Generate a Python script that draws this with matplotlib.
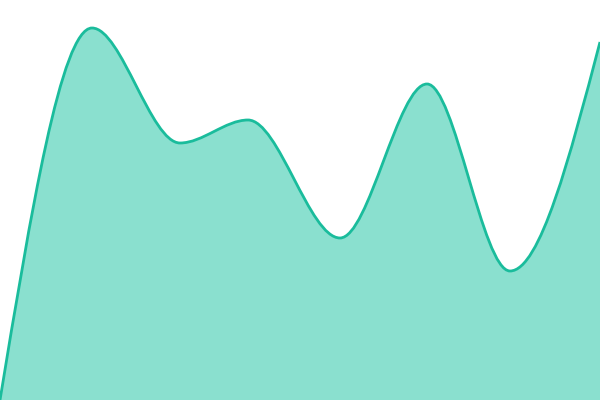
import matplotlib
matplotlib.use("Agg")
import matplotlib.pyplot as plt
from matplotlib.path import Path
from matplotlib.patches import PathPatch

# data points (at the curve's turning points)
xs = [0, 92, 180, 248, 340, 427, 510, 600]
ys = [0, 372, 257, 280, 162, 316, 129, 358]

line_color = "#1abc9c"
fill_color = "#8ae0cf"


def monotone_slopes(x, y):
    # Fritsch-Carlson style tangents, like d3 curveMonotoneX
    n = len(x)
    sec = [(y[i + 1] - y[i]) / (x[i + 1] - x[i]) for i in range(n - 1)]
    m = [0.0] * n
    for i in range(1, n - 1):
        s0, s1 = sec[i - 1], sec[i]
        if s0 * s1 <= 0:
            continue
        h0, h1 = x[i] - x[i - 1], x[i + 1] - x[i]
        p = (s0 * h1 + s1 * h0) / (h0 + h1)
        sign = 1 if s0 > 0 else -1
        m[i] = sign * min(2 * abs(s0), 2 * abs(s1), abs(p))
    m[0] = (3 * sec[0] - m[1]) / 2
    m[-1] = (3 * sec[-1] - m[-2]) / 2
    return m


def curve_path(x, y, closed=False):
    m = monotone_slopes(x, y)
    verts = [(x[0], y[0])]
    codes = [Path.MOVETO]
    for i in range(len(x) - 1):
        dx = (x[i + 1] - x[i]) / 3
        verts += [(x[i] + dx, y[i] + m[i] * dx),
                  (x[i + 1] - dx, y[i + 1] - m[i + 1] * dx),
                  (x[i + 1], y[i + 1])]
        codes += [Path.CURVE4] * 3
    if closed:
        verts += [(x[-1], -10), (x[0], -10), (x[0], y[0])]
        codes += [Path.LINETO, Path.LINETO, Path.CLOSEPOLY]
    return Path(verts, codes)


fig = plt.figure(figsize=(6, 4), dpi=100)
ax = fig.add_axes([0, 0, 1, 1])
ax.set_xlim(0, 600)
ax.set_ylim(0, 400)
ax.axis("off")

ax.add_patch(PathPatch(curve_path(xs, ys, closed=True), facecolor=fill_color,
                       edgecolor="none"))
ax.add_patch(PathPatch(curve_path(xs, ys), facecolor="none",
                       edgecolor=line_color, linewidth=2.0))

fig.savefig("out.png", dpi=100)
